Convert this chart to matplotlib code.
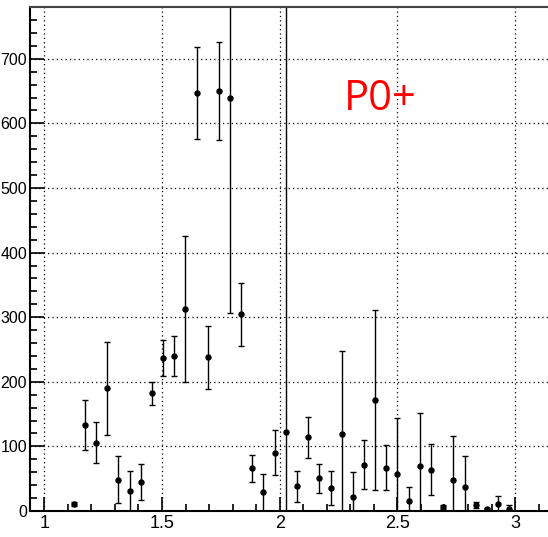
import matplotlib
matplotlib.use('Agg')
import matplotlib.pyplot as plt
from matplotlib.ticker import MultipleLocator

# bin centres and counts
x = [1.125, 1.173, 1.220, 1.266, 1.315, 1.363, 1.410, 1.458, 1.504, 1.551,
     1.599, 1.648, 1.694, 1.741, 1.788, 1.836, 1.884, 1.931, 1.979, 2.026,
     2.074, 2.122, 2.169, 2.217, 2.264, 2.311, 2.359, 2.407, 2.453, 2.500,
     2.549, 2.597, 2.643, 2.692, 2.738, 2.786, 2.833, 2.881, 2.928, 2.976]
y = [10.4, 132.6, 106, 190, 48.5, 31.5, 45, 182, 237, 240,
     312.7, 646.6, 238, 650, 640, 304.5, 66, 29, 90, 122.8,
     38, 114, 50.6, 36, 119, 22, 71.7, 172, 67, 58,
     15.5, 69, 63.5, 5.7, 48.5, 36.6, 9.3, 3.6, 10.8, 3.6]
yerr = [3, 38.5, 31.5, 72, 36.5, 31, 27.5, 18, 28, 30.5,
        113, 71.5, 48.5, 76.5, 334, 48.5, 21, 28.5, 35, 700,
        24.5, 32, 22, 26, 129, 39, 37.5, 139, 34.5, 85.5,
        22, 83, 39.5, 3, 67.5, 49, 4.5, 1.5, 12, 5]

fig = plt.figure(figsize=(5.48, 5.37), dpi=100)
ax = fig.add_axes([30/548, 26/537, 518/548, 504.3/537])

ax.errorbar(x, y, yerr=yerr, fmt='o', color='black', markersize=3.6,
            elinewidth=1.0, capsize=2.0, capthick=1.0)

ax.set_xlim(0.939, 3.140)
ax.set_ylim(0, 780.6)

ax.xaxis.set_major_locator(MultipleLocator(0.5))
ax.xaxis.set_minor_locator(MultipleLocator(0.1))
ax.yaxis.set_major_locator(MultipleLocator(100))
ax.yaxis.set_minor_locator(MultipleLocator(20))
ax.xaxis.set_major_formatter(plt.FuncFormatter(lambda v, p: '%g' % v))

ax.grid(True, which='major', color='black', linestyle=(0, (1, 2.5)), linewidth=0.9)
ax.tick_params(which='both', direction='in', top=False, right=False, width=1.2)
ax.tick_params(axis='x', pad=3, labelsize=13)
ax.tick_params(axis='y', pad=2, labelsize=11.5)
ax.tick_params(which='major', length=10)
ax.tick_params(which='minor', length=5)
for lab in ax.get_xticklabels() + ax.get_yticklabels():
    lab.set_family('Liberation Sans')

ax.spines['right'].set_visible(False)
ax.spines['left'].set_linewidth(1.5)
ax.spines['bottom'].set_linewidth(1.5)
ax.spines['top'].set_linewidth(1.5)
ax.spines['top'].set_color('#444444')

ax.text(2.274, 620, 'P0+', color='red', fontsize=30, family='Open Sans',
        ha='left', va='baseline')

fig.savefig('out.png', dpi=100)
